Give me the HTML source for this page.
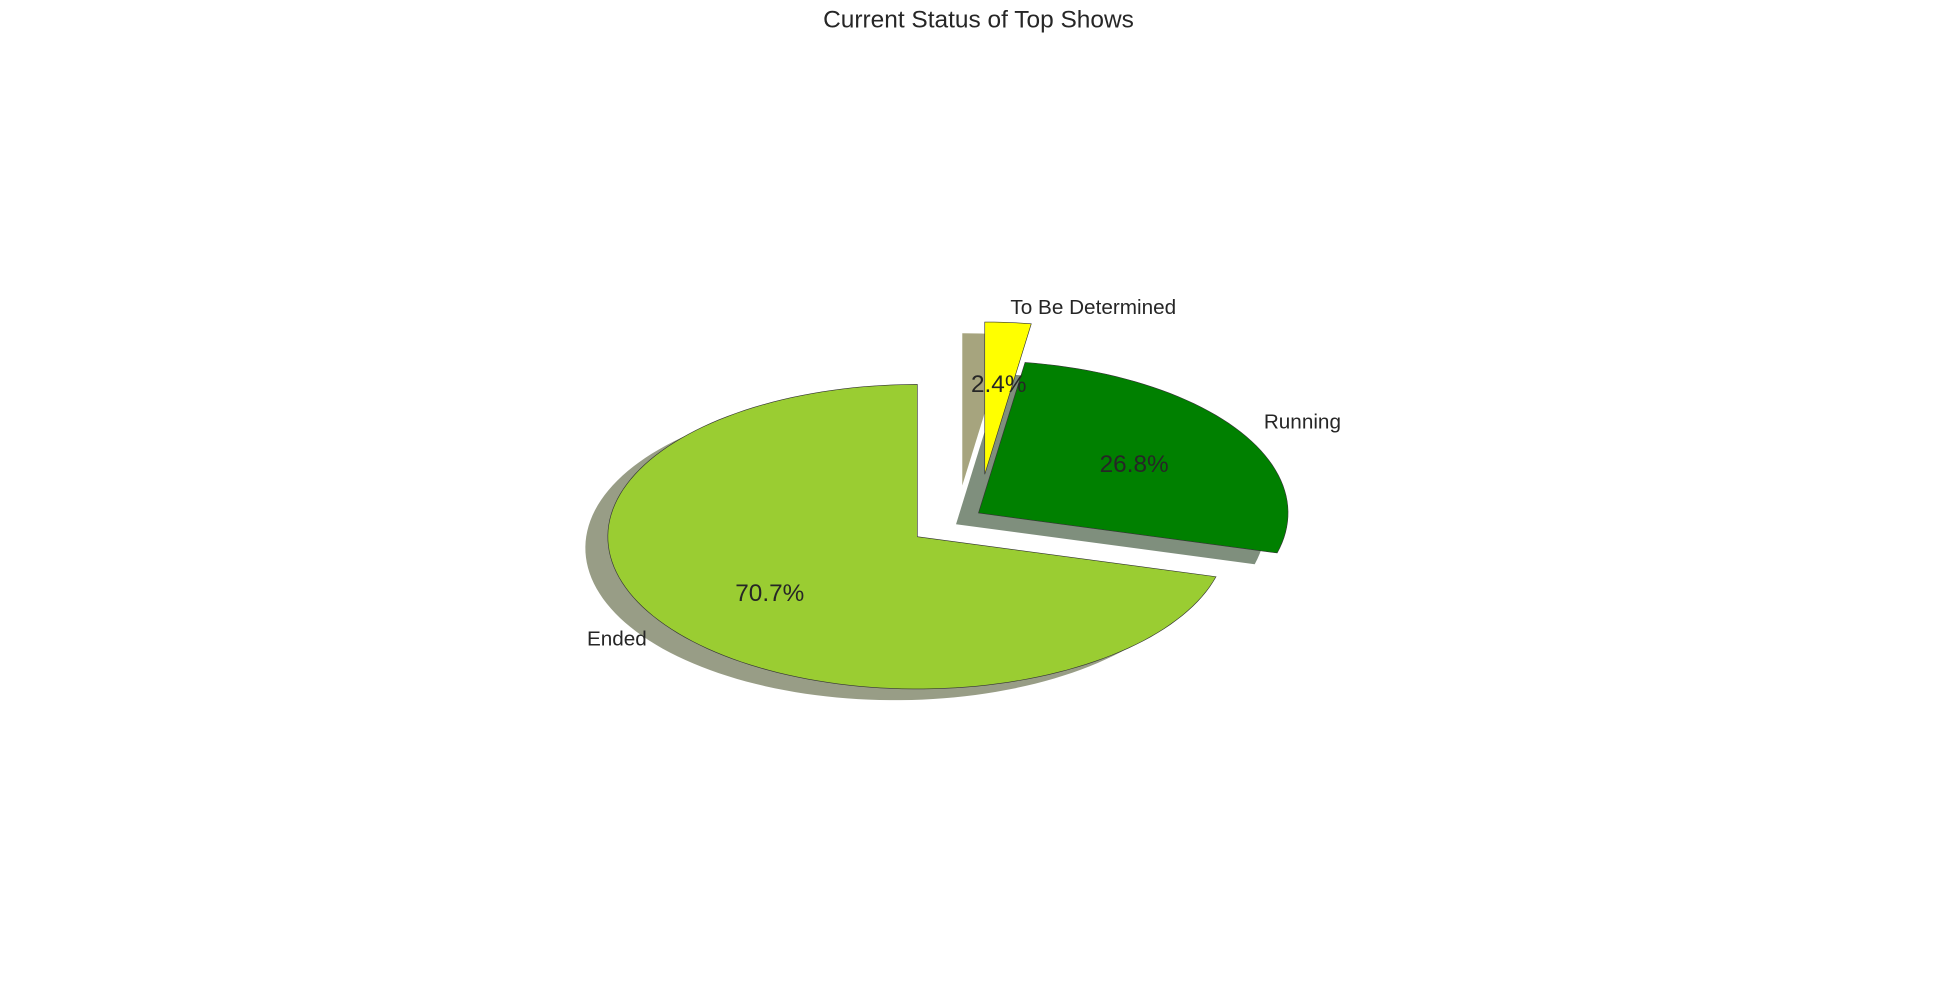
<!DOCTYPE html>
<html><head><meta charset="utf-8"><style>
html,body{margin:0;padding:0;background:#fff;}
svg{display:block;font-family:"Liberation Sans",Arial,sans-serif;}
</style></head><body>
<svg id="chart" width="1957" height="1004" viewBox="0 0 1568 804.4" xmlns="http://www.w3.org/2000/svg">
<rect width="1568" height="804.4" fill="#fff"/>
<text x="784" y="22" text-anchor="middle" font-size="19.6" fill="#262626">Current Status of Top Shows</text>
<g id="shadows"></g><g id="wedges"></g><g id="labels"></g>
</svg>
<script>
const labels = ["Ended", "Running", "To Be Determined"];
const values = [70.7, 26.8, 2.4];
const pctText = ["70.7%", "26.8%", "2.4%"];
const colors = ["#9acd32", "#008000", "#ffff00"];
const shadowColors = ["#989d86", "#7f8f7d", "#a6a47e"];
const wedgeShift = [[0,0],[49,-19],[54,-50]];
const cx = 735, cy = 430, rx = 248, ry = 122;
const NS = "http://www.w3.org/2000/svg";
const total = values.reduce((a,b)=>a+b,0);
function pt(ox, oy, deg, f){ const a=deg*Math.PI/180; return [ox+f*rx*Math.cos(a), oy-f*ry*Math.sin(a)]; }
function wedgePath(ox, oy, a0, a1){
  let d = "M"+ox+","+oy;
  const n = Math.max(4, Math.ceil((a1-a0)/2));
  for(let i=0;i<=n;i++){ const p=pt(ox,oy,a0+(a1-a0)*i/n,1); d+=" L"+p[0].toFixed(2)+","+p[1].toFixed(2); }
  return d+" Z";
}
const gS=document.getElementById("shadows"), gW=document.getElementById("wedges"), gL=document.getElementById("labels");
let start = 90;
values.forEach((v,i)=>{
  const sweep = v/total*360, a0=start, a1=start+sweep, mid=(a0+a1)/2;
  const ox=cx+wedgeShift[i][0], oy=cy+wedgeShift[i][1];
  const sh=document.createElementNS(NS,"path");
  sh.setAttribute("d", wedgePath(ox-18, oy+9, a0, a1));
  sh.setAttribute("fill", shadowColors[i]);
  
  
  gS.appendChild(sh);
  const w=document.createElementNS(NS,"path");
  w.setAttribute("d", wedgePath(ox, oy, a0, a1));
  w.setAttribute("fill", colors[i]);
  w.setAttribute("stroke", "#333");
  w.setAttribute("stroke-width", "0.5");
  
  
  gW.appendChild(w);
  const lp=pt(ox,oy,mid,1.1);
  const t=document.createElementNS(NS,"text");
  t.setAttribute("x", lp[0]); t.setAttribute("y", lp[1]+5.5);
  t.setAttribute("text-anchor", Math.cos(mid*Math.PI/180)<0?"end":"start");
  t.setAttribute("font-size","16.6"); t.setAttribute("fill","#262626");
  t.textContent = labels[i];
  
  
  gL.appendChild(t);
  const pp=pt(ox,oy,mid,0.6);
  const p=document.createElementNS(NS,"text");
  p.setAttribute("x", pp[0]); p.setAttribute("y", pp[1]+7);
  p.setAttribute("text-anchor","middle");
  p.setAttribute("font-size","19.5"); p.setAttribute("fill","#262626");
  p.textContent = pctText[i];
  
  
  gL.appendChild(p);
  start = a1;
});
</script>
</body></html>
